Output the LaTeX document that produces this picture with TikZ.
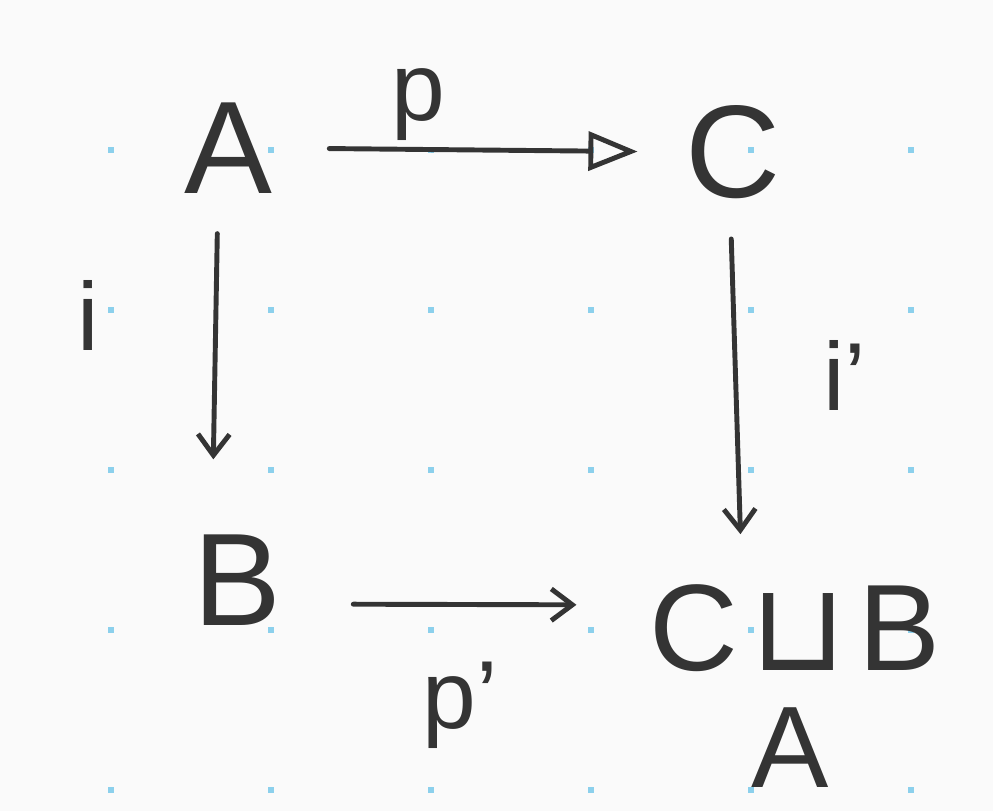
\documentclass[tikz,border=0pt]{standalone}
\usepackage{fontspec}
\setmainfont{Liberation Sans}
\newfontfamily\symfont{DejaVu Sans}
\definecolor{ink}{RGB}{52,52,52}
\definecolor{gridblue}{RGB}{140,208,236}
\definecolor{paper}{RGB}{250,250,250}
\usetikzlibrary{arrows.meta}

\begin{document}
\begin{tikzpicture}[x=0.02cm,y=-0.02cm,
  obj/.style={inner sep=0pt,text=ink,font=\fontsize{75}{80}\selectfont},
  lbl/.style={inner sep=0pt,text=ink,font=\fontsize{55}{60}\selectfont},
  mor/.style={ink,line width=2.8pt,line cap=round,-{Straight Barb[length=12pt,width=18pt,line width=2.8pt]}}]
  % paper and dot grid
  \fill[paper] (0,0) rectangle (993,811);
  \useasboundingbox (0,0) rectangle (993,811);
  \foreach \x in {111,271,...,911}
    \foreach \y in {150,310,...,790}
      \fill[gridblue] (\x-3,\y-3) rectangle (\x+3,\y+3);
  % objects
  \node[obj] (A) at (228,148) {A};
  \node[obj] (C) at (733,152) {C};
  \node[obj] (B) at (237,580) {B};
  \node[obj,font=\fontsize{70}{75}\selectfont] (CuB) at (795,628) {C\kern0.1em{\symfont ⊔}\kern0.1em B};
  \node[obj,font=\fontsize{66}{70}\selectfont] (A2) at (790,748) {A};
  % morphisms
  \draw[mor,-{Triangle[open,length=28pt,width=22pt,line width=2.8pt]},shorten <=1.14cm,shorten >=0.95cm] (A.east) -- (C.west);
  \draw[mor,shorten <=0.8cm,shorten >=1.5cm] ([xshift=-0.2cm]A.south) -- ([xshift=-0.5cm]B.north);
  \draw[mor,shorten <=0.8cm,shorten >=1.0cm] ([xshift=-0.06cm]C.south) -- ([xshift=-1.06cm]CuB.north);
  \draw[mor,shorten <=1.44cm,shorten >=1.45cm] ([yshift=-0.48cm]B.east) -- ([yshift=0.46cm]CuB.west);
  % labels
  \node[lbl] (p) at (418,105) {p};
  \node[lbl] (i) at (88,315) {i};
  \node[lbl] (ip) at (845,375) {i'};
  \node[lbl] (pp) at (460,705) {p'};
\end{tikzpicture}
\end{document}
